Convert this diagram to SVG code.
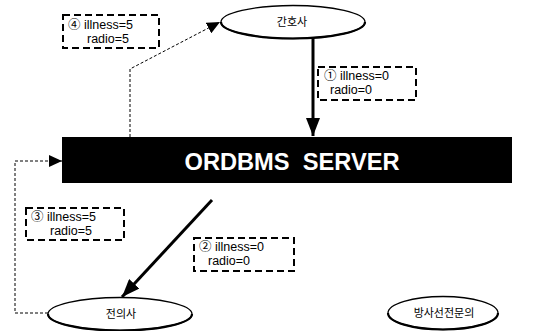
<svg xmlns="http://www.w3.org/2000/svg" width="535" height="331" viewBox="0 0 535 331">
<style>
.lbl{font-family:"Liberation Sans","Noto Sans CJK KR",sans-serif;font-size:12.5px;fill:#000}
.kr{font-family:"Noto Sans CJK KR","Liberation Sans",sans-serif;font-size:11px;fill:#000;text-anchor:middle}
.box{fill:none;stroke:#000;stroke-width:2;stroke-dasharray:7,4}
.ell{fill:#fff;stroke:#000;stroke-width:1.3}
.shade{fill:none;stroke:#000;stroke-width:2.2}
.solid{fill:none;stroke:#000;stroke-width:3}
.dot{fill:none;stroke:#000;stroke-width:1;stroke-dasharray:3,2}
</style>
<defs>
<marker id="big" markerUnits="userSpaceOnUse" markerWidth="20" markerHeight="14" refX="18" refY="7" orient="auto">
<path d="M0,0 L18,7 L0,14 Z" fill="#000"/>
</marker>
<marker id="small" markerUnits="userSpaceOnUse" markerWidth="14" markerHeight="12" refX="13" refY="6" orient="auto">
<path d="M0,0 L13,6 L0,12 Z" fill="#000"/>
</marker>
</defs>
<rect width="535" height="331" fill="#fff"/>
<g id="connectors">
<path class="solid" d="M313,38 V136" marker-end="url(#big)"/>
<path class="solid" d="M212,200 L122,297" marker-end="url(#big)"/>
<path class="dot" d="M130,137 V69 L220,22" marker-end="url(#small)"/>
<path class="dot" d="M48,313 H15 V161 H62" marker-end="url(#small)"/>
</g>
<g id="server">
<rect x="62" y="137" width="450" height="46" fill="#000"/>
<text x="292" y="170" font-family="Liberation Sans, Arial, sans-serif" font-weight="bold" font-size="24" fill="#fff" text-anchor="middle" textLength="215" lengthAdjust="spacingAndGlyphs">ORDBMS&#160; SERVER</text>
</g>
<g id="nurse">
<ellipse class="ell" cx="293" cy="22" rx="72" ry="16.5"/>
<path class="shade" d="M221,22 A72,16.5 0 0 0 365,22"/>
<text class="kr" x="292" y="26">간호사</text>
</g>
<g id="doctor">
<ellipse class="ell" cx="120" cy="314" rx="72" ry="16.5"/>
<path class="shade" d="M48,314 A72,16.5 0 0 0 192,314"/>
<text class="kr" x="121" y="318">전의사</text>
</g>
<g id="radiologist">
<ellipse class="ell" cx="443" cy="313" rx="55" ry="16.5"/>
<path class="shade" d="M388,313 A55,16.5 0 0 0 498,313"/>
<text class="kr" x="444" y="317">방사선전문의</text>
</g>
<g id="label1">
<rect class="box" x="318" y="67" width="98" height="33"/>
<text class="lbl" x="324" y="80">① illness=0</text>
<text class="lbl" x="330" y="94">radio=0</text>
</g>
<g id="label2">
<rect class="box" x="194" y="238" width="100" height="33"/>
<text class="lbl" x="199" y="251">② illness=0</text>
<text class="lbl" x="208" y="265">radio=0</text>
</g>
<g id="label3">
<rect class="box" x="26" y="208" width="98" height="32"/>
<text class="lbl" x="31" y="221">③ illness=5</text>
<text class="lbl" x="50" y="235">radio=5</text>
</g>
<g id="label4">
<rect class="box" x="63" y="15" width="96" height="33"/>
<text class="lbl" x="68" y="29">④ illness=5</text>
<text class="lbl" x="87" y="43">radio=5</text>
</g>
</svg>
